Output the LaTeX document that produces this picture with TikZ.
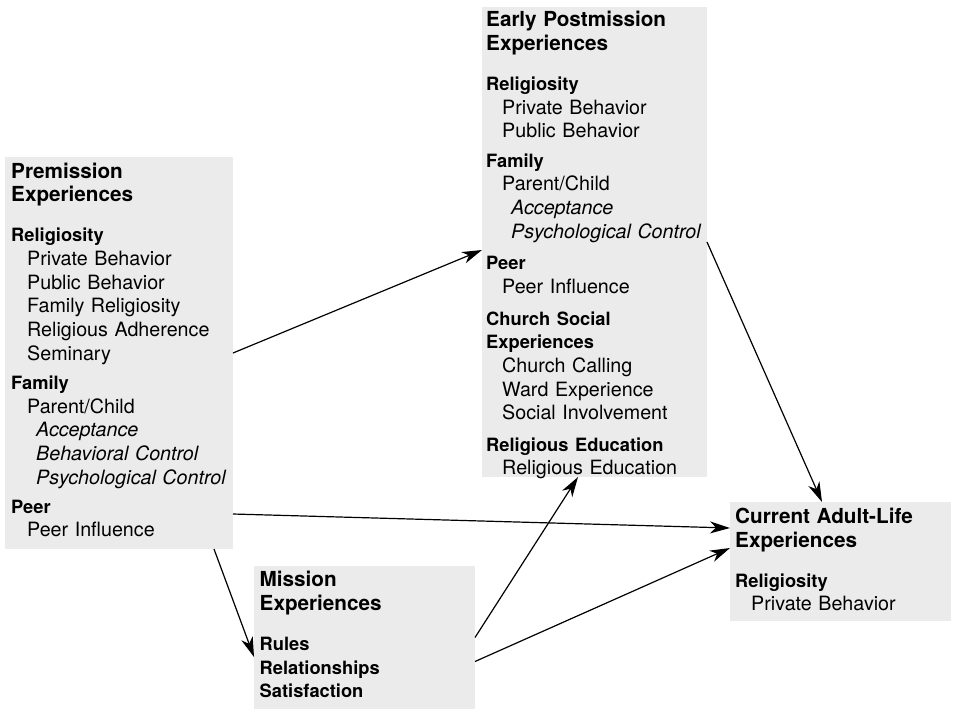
\documentclass[tikz,border=0pt]{standalone}
\usepackage{fontspec}
\setmainfont{TeX Gyre Heros}
\usepackage{tikz}
\usetikzlibrary{arrows.meta,calc}

\newcommand{\ptitle}[1]{{\fontsize{20.7}{23.7}\selectfont\bfseries #1}}
\newcommand{\phead}[1]{{\fontsize{18.3}{23.7}\selectfont\bfseries #1}}
\newcommand{\pitem}[1]{\hspace*{16pt}#1}
\newcommand{\psubitem}[1]{\hspace*{25pt}\textit{#1}}

\begin{document}
\begin{tikzpicture}[x=1pt,y=-1pt,
  panel/.style={fill=black!8,inner sep=0pt,outer sep=0pt,anchor=north west},
  paneltext/.style={anchor=base west,inner sep=0pt,align=left,text width=260pt,font=\fontsize{19.7}{23.7}\selectfont},
  link/.style={-{Stealth[length=20pt,width=12pt,inset=6pt]},line width=1.2pt}]
\useasboundingbox (0,0) rectangle (953,710);

\node (pre) at (5,157)[panel,minimum width=228pt,minimum height=392pt] {};
\node (epm) at (482,7)[panel,minimum width=225pt,minimum height=470pt] {};
\node (mis) at (254,566)[panel,minimum width=221pt,minimum height=143pt] {};
\node (cur) at (730,502)[panel,minimum width=221pt,minimum height=119pt] {};

\node (pretext) at (11,178)[paneltext] {\ptitle{Premission}\\
\ptitle{Experiences}\\[16.3pt]
\phead{Religiosity}\\
\pitem{Private Behavior}\\
\pitem{Public Behavior}\\
\pitem{Family Religiosity}\\
\pitem{Religious Adherence}\\
\pitem{Seminary}\\[5.5pt]
\phead{Family}\\
\pitem{Parent/Child}\\
\psubitem{Acceptance}\\
\psubitem{Behavioral Control}\\
\psubitem{Psychological Control}\\[5.3pt]
\phead{Peer}\\
\pitem{Peer Influence}};

\node (epmtext) at (486,26.7)[paneltext] {\ptitle{Early Postmission}\\
\ptitle{Experiences}\\[16.3pt]
\phead{Religiosity}\\
\pitem{Private Behavior}\\
\pitem{Public Behavior}\\[5.5pt]
\phead{Family}\\
\pitem{Parent/Child}\\
\psubitem{Acceptance}\\
\psubitem{Psychological Control}\\[7.5pt]
\phead{Peer}\\
\pitem{Peer Influence}\\[8.3pt]
\phead{Church Social}\\
\phead{Experiences}\\
\pitem{Church Calling}\\
\pitem{Ward Experience}\\
\pitem{Social Involvement}\\[7.5pt]
\phead{Religious Education}\\
\pitem{Religious Education}};

\node (mistext) at (259.5,586.7)[paneltext] {\ptitle{Mission}\\
\ptitle{Experiences}\\[16.3pt]
\phead{Rules}\\
\phead{Relationships}\\
\phead{Satisfaction}};

\node (curtext) at (735,523.3)[paneltext] {\ptitle{Current Adult-Life}\\
\ptitle{Experiences}\\[16.3pt]
\phead{Religiosity}\\
\pitem{Private Behavior}};

\draw[link] (pre.east) -- ($(epm.west)+(0,8)$);
\draw[link] ($(pre.south east)+(0,-35)$) -- ($(cur.west)+(0,-33.5)$);
\draw[link] ($(pre.south east)+(-19,0)$) -- ($(mis.west)+(0,19.5)$);
\draw[link] (mis.east) -- ($(epm.south)+(-16.5,0)$);
\draw[link] ($(mis.east)+(0,24)$) -- ($(cur.west)+(0,-13.5)$);
\draw[link] (epm.east) -- ($(cur.north)+(-18.5,0)$);
\end{tikzpicture}
\end{document}
